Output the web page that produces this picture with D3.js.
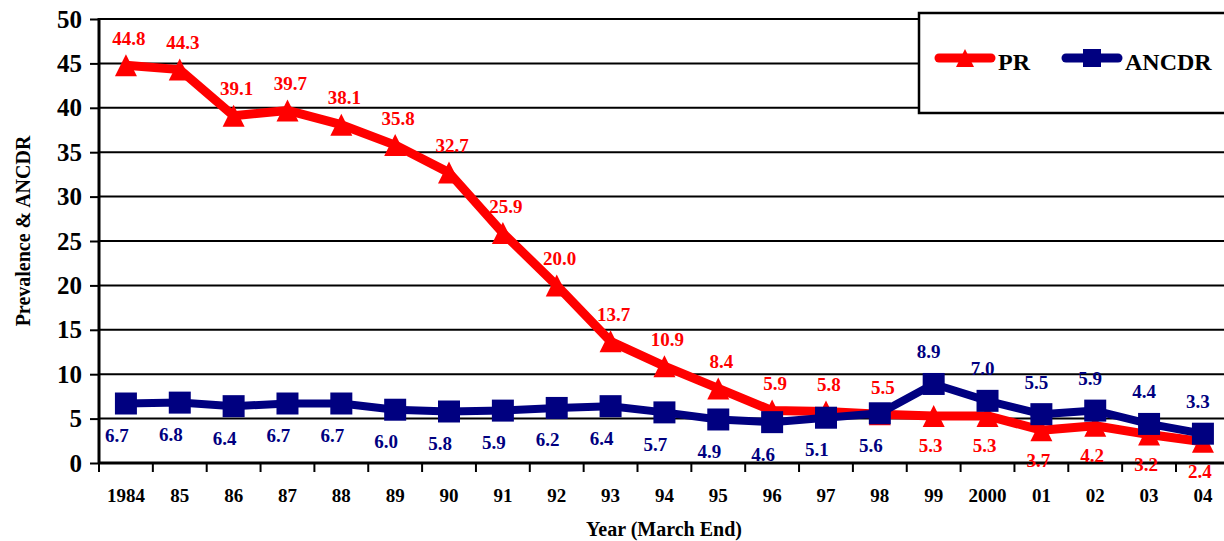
<!DOCTYPE html>
<html>
<head>
<meta charset="utf-8">
<script src="https://cdn.jsdelivr.net/npm/d3@7"></script>
<style>
  html, body { margin: 0; padding: 0; background: #fff; }
  svg { display: block; }
  svg text { font-family: "Liberation Serif", "Times New Roman", serif !important; font-weight: bold; }
</style>
</head>
<body>
<svg id="chart" width="1224" height="541"></svg>
<script>
// Year labels (March end) along the horizontal axis
const years = ["1984","85","86","87","88","89","90","91","92","93","94","95","96","97","98","99","2000","01","02","03","04"];
// Prevalence rate per 10,000
const prValues = [44.8, 44.3, 39.1, 39.7, 38.1, 35.8, 32.7, 25.9, 20.0, 13.7, 10.9, 8.4, 5.9, 5.8, 5.5, 5.3, 5.3, 3.7, 4.2, 3.2, 2.4];
// Annual new case detection rate per 100,000
const ancdrValues = [6.7, 6.8, 6.4, 6.7, 6.7, 6.0, 5.8, 5.9, 6.2, 6.4, 5.7, 4.9, 4.6, 5.1, 5.6, 8.9, 7.0, 5.5, 5.9, 4.4, 3.3];
// Which side of the marker each value label sits on
const prLabelSide    = ["a","a","a","a","a","a","a","a","a","a","a","a","a","a","a","b","b","b","b","b","b"];
const ancdrLabelSide = ["b","b","b","b","b","b","b","b","b","b","b","b","b","b","b","a","a","a","a","a","a"];
const yTicks = [0, 5, 10, 15, 20, 25, 30, 35, 40, 45, 50];

const RED = "#ff0000", NAVY = "#000080";
const svg = d3.select("#chart");
const plotLeft = 99, plotTop = 19, plotBottom = 463;
const bandW = 53.85;
const plotRight = plotLeft + bandW * years.length;

const x = d3.scaleBand().domain(years).range([plotLeft, plotRight]).paddingInner(0).paddingOuter(0);
const y = d3.scaleLinear().domain([0, 50]).range([plotBottom, plotTop]);
const cx = d => x(d) + x.bandwidth() / 2;

// Horizontal gridlines
svg.append("g").selectAll("line").data(yTicks.filter(t => t > 0)).join("line")
  .attr("x1", plotLeft).attr("x2", 1224)
  .attr("y1", d => y(d)).attr("y2", d => y(d))
  .attr("stroke", "#000").attr("stroke-width", 2);

// Y axis
const yAxis = svg.append("g").attr("transform", `translate(${plotLeft},0)`)
  .call(d3.axisLeft(y).tickValues(yTicks).tickSize(9).tickPadding(8).tickFormat(d3.format("d")));
yAxis.select(".domain").attr("stroke", "#000").attr("stroke-width", 3).attr("d", `M0,${plotTop - 1}V${plotBottom + 1}`);
yAxis.selectAll(".tick line").attr("stroke", "#000").attr("stroke-width", 2);
yAxis.selectAll(".tick text").attr("font-size", 25).attr("fill", "#000");

// X axis: ticks at the band boundaries, labels centred in each band
const xg = svg.append("g");
xg.append("line").attr("x1", plotLeft - 1).attr("x2", 1224).attr("y1", plotBottom).attr("y2", plotBottom)
  .attr("stroke", "#000").attr("stroke-width", 3);
xg.selectAll("line.tk").data(years).join("line").attr("class", "tk")
  .attr("x1", d => x(d)).attr("x2", d => x(d))
  .attr("y1", plotBottom).attr("y2", plotBottom + 9)
  .attr("stroke", "#000").attr("stroke-width", 2);
xg.append("line").attr("x1", plotRight).attr("x2", plotRight).attr("y1", plotBottom).attr("y2", plotBottom + 9)
  .attr("stroke", "#000").attr("stroke-width", 2);
xg.selectAll("text").data(years).join("text")
  .attr("x", d => cx(d)).attr("y", 502)
  .attr("text-anchor", "middle").attr("font-size", 19).attr("fill", "#000")
  .text(d => d);

// Axis titles
svg.append("text").attr("transform", "translate(23,231) rotate(-90)")
  .attr("text-anchor", "middle").attr("dominant-baseline", "central")
  .attr("font-size", 20).attr("fill", "#000")
  .text("Prevalence & ANCDR");
svg.append("text").attr("x", 664).attr("y", 536)
  .attr("text-anchor", "middle").attr("font-size", 20).attr("fill", "#000")
  .text("Year (March End)");

// Marker shapes
const triPath = s => `M0,${-s / 2}L${s / 2},${s / 2}L${-s / 2},${s / 2}Z`;
const sqPath = s => `M${-s / 2},${-s / 2}h${s}v${s}h${-s}Z`;

function drawSeries(values, color, width, shape, sides, offs) {
  const pts = years.map((yr, i) => [cx(yr), y(values[i])]);
  svg.append("path").attr("d", d3.line()(pts))
    .attr("fill", "none").attr("stroke", color).attr("stroke-width", width)
    .attr("stroke-linejoin", "round").attr("stroke-linecap", "round");
  svg.append("g").selectAll("path").data(pts).join("path")
    .attr("transform", d => `translate(${d[0]},${d[1]})`)
    .attr("d", shape(22)).attr("fill", color);
  svg.append("g").selectAll("text").data(values).join("text")
    .attr("x", (v, i) => pts[i][0] + offs[sides[i]].dx)
    .attr("y", (v, i) => pts[i][1] + offs[sides[i]].dy)
    .attr("text-anchor", "middle").attr("dominant-baseline", "central")
    .attr("font-size", 19).attr("fill", color)
    .text(v => v.toFixed(1));
}

drawSeries(prValues, RED, 9, triPath, prLabelSide, { a: { dx: 3, dy: -27 }, b: { dx: -3, dy: 30 } });
drawSeries(ancdrValues, NAVY, 8, sqPath, ancdrLabelSide, { a: { dx: -5, dy: -32 }, b: { dx: -9, dy: 32 } });

// Legend
const lg = svg.append("g");
lg.append("rect").attr("x", 919).attr("y", 13).attr("width", 320).attr("height", 100)
  .attr("fill", "#fff").attr("stroke", "#000").attr("stroke-width", 2.5);
const legendItems = [
  { name: "PR", color: RED, shape: triPath, x0: 935 },
  { name: "ANCDR", color: NAVY, shape: sqPath, x0: 1062 }
];
legendItems.forEach(it => {
  lg.append("line").attr("x1", it.x0 + 4).attr("x2", it.x0 + 56).attr("y1", 58).attr("y2", 58)
    .attr("stroke", it.color).attr("stroke-width", 9).attr("stroke-linecap", "round");
  lg.append("path").attr("transform", `translate(${it.x0 + 30},58)`)
    .attr("d", it.shape(18)).attr("fill", it.color);
  lg.append("text").attr("x", it.x0 + 63).attr("y", 70)
    .attr("font-size", 24).attr("fill", "#000").text(it.name);
});
</script>
</body>
</html>
